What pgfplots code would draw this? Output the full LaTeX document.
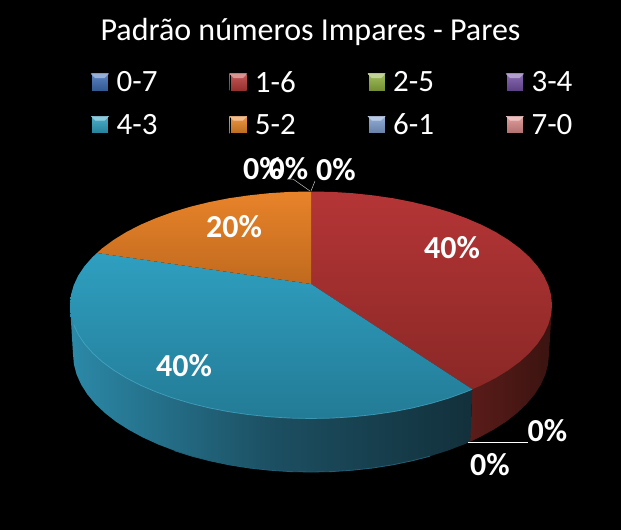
\documentclass[border=0pt]{standalone}
\usepackage{fontspec}
\setmainfont{Carlito}
\usepackage{pgfplots}
\pgfplotsset{compat=1.18}

\definecolor{k07}{HTML}{3E6DB5}
\definecolor{k16}{HTML}{B93A38}
\definecolor{k25}{HTML}{8FB13E}
\definecolor{k34}{HTML}{7350A4}
\definecolor{k43}{HTML}{2EA0C0}
\definecolor{k52}{HTML}{EA8526}
\definecolor{k61}{HTML}{7F9FD0}
\definecolor{k70}{HTML}{DB8C8A}

\definecolor{redtop}{HTML}{B53536}
\definecolor{redbot}{HTML}{8A2826}
\definecolor{bluetop}{HTML}{2F9FC0}
\definecolor{bluebot}{HTML}{237B96}
\definecolor{orgtop}{HTML}{E8832A}
\definecolor{orgbot}{HTML}{C06A1E}
\definecolor{redsideL}{HTML}{5A1C19}
\definecolor{redsideR}{HTML}{3A1310}
\definecolor{bluesideL}{HTML}{2B89A8}
\definecolor{bluesideM}{HTML}{1C4F62}
\definecolor{bluesideR}{HTML}{12303B}
\definecolor{edgeblue}{HTML}{4BB0CC}
\definecolor{rimblue}{HTML}{1F6076}
\definecolor{leader}{HTML}{BFBFBF}

% legend swatch with a small bevel along the top
\newcommand{\legkey}[1]{\addlegendimage{legend image code/.code={
  \fill[top color=#1!85!white, bottom color=#1!80!black] (0pt,-8.5pt) rectangle (17pt,8.5pt);
  \fill[#1!55!white] (0pt,8.5pt) -- (17pt,8.5pt) -- (13pt,4.5pt) -- (4pt,4.5pt) -- cycle;
}}}
\tikzset{pct/.style={text=white, font=\fontsize{32}{36}\selectfont\bfseries, inner sep=0pt}}

\begin{document}
\begin{tikzpicture}
\begin{axis}[
  scale only axis, width=621pt, height=530pt,
  xmin=0, xmax=621, ymin=0, ymax=530, y dir=reverse,
  hide axis,
  title={Padrão números Impares - Pares},
  title style={at={(0.5,0.9285)}, anchor=center, text=white, font=\fontsize{32}{36}\selectfont, inner sep=0pt},
  legend columns=4,
  legend cell align=left,
  legend style={at={(axis cs:88,67)}, anchor=north west, draw=none, fill=none,
    text=white, font=\fontsize{31}{35}\selectfont, row sep=16pt,
    /tikz/every even column/.append style={column sep=70pt},
    /tikz/every odd column/.append style={column sep=6pt}},
  every axis plot/.append style={forget plot},
]
\fill[black] (axis cs:0,0) rectangle (axis cs:621,530);

% side wall, red part
\addplot[draw=none, left color=redsideL, right color=redsideR] coordinates {
  (552,305) (549,354) (548.1,364.3) (545.4,374.5) (540.9,384.5) (534.6,394.4)
  (526.7,403.9) (517.1,413) (506,421.7) (493.3,429.8) (479.3,437.4) (470.3,441.7)
  (472.3,389.3)} -- cycle;

% side wall, blue part
\addplot[draw=none, left color=bluesideL, right color=bluesideR, middle color=bluesideM] coordinates {
  (472.3,389.3) (470.3,441.7) (464,444.4) (447.5,450.7) (430,456.2) (411.6,460.9)
  (392.4,464.9) (372.6,468) (352.3,470.2) (331.7,471.6) (311,472) (290.3,471.6)
  (269.7,470.2) (249.4,468) (229.6,464.9) (210.4,460.9) (192,456.2) (174.5,450.7)
  (158,444.4) (142.7,437.4) (128.7,429.8) (116,421.7) (104.9,413) (95.3,403.9)
  (87.4,394.4) (81.1,384.5) (76.6,374.5) (73.9,364.3) (73,354) (70,305)} -- cycle;

% lighter rim on the lower edge of the wall
\addplot[rimblue, line width=0.8pt] coordinates {
  (430,456.2) (411.6,460.9) (392.4,464.9) (372.6,468) (352.3,470.2) (331.7,471.6)
  (311,472) (290.3,471.6) (269.7,470.2) (249.4,468) (229.6,464.9) (210.4,460.9)
  (192,456.2) (174.5,450.7)};

% top, 1-6
\addplot[draw=none, top color=redtop, bottom color=redbot] coordinates {
  (311,284) (311,191.5) (332,191.9) (352.8,193.2) (373.4,195.4) (393.4,198.3)
  (412.8,202.1) (431.5,206.7) (449.2,212) (465.9,218.1) (481.4,224.7) (495.6,232)
  (508.4,239.9) (519.7,248.2) (529.4,257) (537.5,266.2) (543.8,275.6) (548.3,285.3)
  (551.1,295.1) (552,305) (551.1,314.9) (548.3,324.7) (543.8,334.4) (537.5,343.8)
  (529.4,353) (519.7,361.8) (508.4,370.1) (495.6,378) (481.4,385.3) (472.3,389.3)} -- cycle;

% top, 4-3
\addplot[draw=none, top color=bluetop, bottom color=bluebot] coordinates {
  (311,284) (472.3,389.3) (465.9,391.9) (449.2,398) (431.5,403.3) (412.8,407.9)
  (393.4,411.7) (373.4,414.6) (352.8,416.8) (332,418.1) (311,418.5) (290,418.1)
  (269.2,416.8) (248.6,414.6) (228.6,411.7) (209.2,407.9) (190.5,403.3) (172.8,398)
  (156.1,391.9) (140.6,385.3) (126.4,378) (113.6,370.1) (102.3,361.8) (92.6,353)
  (84.5,343.8) (78.2,334.4) (73.7,324.7) (70.9,314.9) (70,305) (70.9,295.1)
  (73.7,285.3) (78.2,275.6) (84.5,266.2) (92.6,257) (97,253)} -- cycle;

% top, 5-2
\addplot[draw=none, top color=orgtop, bottom color=orgbot] coordinates {
  (311,284) (97,253) (102.3,248.2) (113.6,239.9) (126.4,232) (140.6,224.7)
  (156.1,218.1) (172.8,212) (190.5,206.7) (209.2,202.1) (228.6,198.3) (248.6,195.4)
  (269.2,193.2) (290,191.9) (311,191.5)} -- cycle;

% light rim along the front of the blue slice
\addplot[edgeblue, line width=0.7pt, opacity=0.7] coordinates {
  (472.3,389.3) (465.9,391.9) (449.2,398) (431.5,403.3) (412.8,407.9)
  (393.4,411.7) (373.4,414.6) (352.8,416.8) (332,418.1) (311,418.5) (290,418.1)
  (269.2,416.8) (248.6,414.6) (228.6,411.7) (209.2,407.9) (190.5,403.3) (172.8,398)
  (156.1,391.9) (140.6,385.3) (126.4,378) (113.6,370.1) (102.3,361.8) (92.6,353)
  (84.5,343.8) (78.2,334.4) (73.7,324.7)};

% leader lines of the empty slices
\addplot[leader, line width=0.5pt] coordinates {(287,179) (293,179) (310,191)};
\addplot[leader, line width=0.5pt] coordinates {(315,181) (311,191)};
\addplot[white, line width=0.7pt] coordinates {(468,442) (528,442)};

\legkey{k07}\addlegendentry{0-7}
\legkey{k16}\addlegendentry{1-6}
\legkey{k25}\addlegendentry{2-5}
\legkey{k34}\addlegendentry{3-4}
\legkey{k43}\addlegendentry{4-3}
\legkey{k52}\addlegendentry{5-2}
\legkey{k61}\addlegendentry{6-1}
\legkey{k70}\addlegendentry{7-0}

\node[pct] at (axis cs:452,248) {40\%};
\node[pct] at (axis cs:234,227) {20\%};
\node[pct] at (axis cs:184,366) {40\%};
\node[pct] at (axis cs:263,169) {0\%};
\node[pct] at (axis cs:288.5,169) {0\%};
\node[pct] at (axis cs:336,170) {0\%};
\node[pct] at (axis cs:547.5,431) {0\%};
\node[pct] at (axis cs:490,465) {0\%};
\end{axis}
\end{tikzpicture}
\end{document}
